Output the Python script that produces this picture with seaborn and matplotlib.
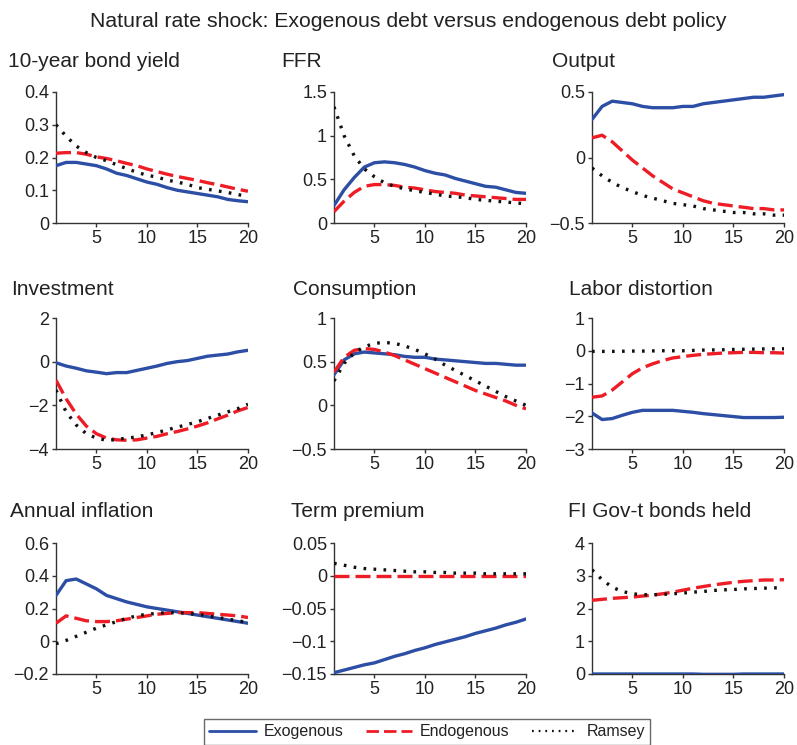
import numpy as np
import pandas as pd
import matplotlib
matplotlib.use("Agg")
import matplotlib.pyplot as plt
from matplotlib.lines import Line2D
from matplotlib.ticker import FuncFormatter
import seaborn as sns

sns.set_theme(style="ticks")
plt.rcParams["font.family"] = ["Liberation Sans", "DejaVu Sans"]

quarters = list(range(1, 21))
policies = ["Exogenous", "Endogenous", "Ramsey"]

bond_exo = [0.175, 0.185, 0.185, 0.18, 0.175, 0.165, 0.152, 0.145, 0.135, 0.125, 0.118, 0.108, 0.1, 0.095, 0.09, 0.085, 0.08, 0.072, 0.068, 0.065]
bond_endo = [0.213, 0.215, 0.215, 0.21, 0.202, 0.197, 0.19, 0.182, 0.175, 0.165, 0.157, 0.149, 0.142, 0.136, 0.13, 0.123, 0.117, 0.11, 0.103, 0.097]
bond_ram = [0.30, 0.265, 0.235, 0.215, 0.2, 0.19, 0.178, 0.166, 0.155, 0.146, 0.14, 0.131, 0.125, 0.118, 0.108, 0.103, 0.098, 0.093, 0.087, 0.08]

ffr_exo = [0.2, 0.38, 0.52, 0.64, 0.69, 0.70, 0.69, 0.67, 0.64, 0.6, 0.57, 0.55, 0.51, 0.48, 0.45, 0.42, 0.41, 0.38, 0.35, 0.34]
ffr_endo = [0.13, 0.25, 0.35, 0.42, 0.44, 0.44, 0.43, 0.41, 0.4, 0.38, 0.36, 0.35, 0.34, 0.32, 0.31, 0.3, 0.29, 0.28, 0.27, 0.27]
ffr_ram = [1.33, 1.0, 0.77, 0.62, 0.53, 0.46, 0.42, 0.39, 0.37, 0.35, 0.33, 0.31, 0.3, 0.29, 0.27, 0.26, 0.25, 0.24, 0.23, 0.22]

out_exo = [0.29, 0.39, 0.43, 0.42, 0.41, 0.39, 0.38, 0.38, 0.38, 0.39, 0.39, 0.41, 0.42, 0.43, 0.44, 0.45, 0.46, 0.46, 0.47, 0.48]
out_endo = [0.15, 0.17, 0.12, 0.05, -0.02, -0.08, -0.14, -0.19, -0.24, -0.27, -0.3, -0.33, -0.35, -0.36, -0.37, -0.38, -0.39, -0.39, -0.4, -0.4]
out_ram = [-0.08, -0.14, -0.19, -0.23, -0.26, -0.29, -0.31, -0.33, -0.35, -0.36, -0.37, -0.39, -0.4, -0.41, -0.42, -0.42, -0.43, -0.43, -0.44, -0.44]

inv_exo = [-0.05, -0.2, -0.3, -0.42, -0.48, -0.55, -0.5, -0.5, -0.4, -0.3, -0.2, -0.08, 0.0, 0.05, 0.15, 0.25, 0.3, 0.35, 0.45, 0.52]
inv_endo = [-0.85, -1.7, -2.4, -2.95, -3.3, -3.5, -3.58, -3.6, -3.58, -3.5, -3.42, -3.3, -3.2, -3.08, -2.95, -2.8, -2.62, -2.45, -2.25, -2.1]
inv_ram = [-1.3, -2.3, -2.9, -3.3, -3.5, -3.6, -3.57, -3.5, -3.45, -3.35, -3.25, -3.12, -3.0, -2.88, -2.75, -2.6, -2.45, -2.3, -2.15, -1.95]

cons_exo = [0.35, 0.52, 0.59, 0.61, 0.6, 0.59, 0.58, 0.56, 0.55, 0.55, 0.53, 0.52, 0.51, 0.5, 0.49, 0.48, 0.48, 0.47, 0.46, 0.46]
cons_endo = [0.38, 0.55, 0.63, 0.65, 0.64, 0.61, 0.57, 0.52, 0.47, 0.42, 0.37, 0.32, 0.27, 0.22, 0.17, 0.13, 0.09, 0.05, 0.0, -0.04]
cons_ram = [0.28, 0.48, 0.6, 0.67, 0.71, 0.72, 0.71, 0.68, 0.64, 0.59, 0.53, 0.46, 0.4, 0.34, 0.28, 0.22, 0.16, 0.1, 0.05, 0.0]

lab_exo = [-1.9, -2.1, -2.07, -1.97, -1.88, -1.82, -1.82, -1.82, -1.82, -1.85, -1.88, -1.92, -1.95, -1.98, -2.01, -2.04, -2.04, -2.04, -2.04, -2.03]
lab_endo = [-1.42, -1.38, -1.2, -0.95, -0.7, -0.52, -0.4, -0.3, -0.22, -0.18, -0.14, -0.11, -0.09, -0.07, -0.06, -0.05, -0.05, -0.06, -0.06, -0.07]
lab_ram = [-0.02, -0.02, -0.02, -0.015, -0.01, -0.01, -0.005, 0.0, 0.0, 0.0, 0.01, 0.02, 0.025, 0.03, 0.04, 0.045, 0.05, 0.055, 0.06, 0.06]

infl_exo = [0.28, 0.37, 0.38, 0.35, 0.32, 0.28, 0.26, 0.24, 0.225, 0.21, 0.2, 0.19, 0.18, 0.17, 0.16, 0.15, 0.14, 0.13, 0.12, 0.11]
infl_endo = [0.11, 0.155, 0.14, 0.125, 0.12, 0.12, 0.125, 0.135, 0.145, 0.155, 0.165, 0.17, 0.175, 0.175, 0.175, 0.17, 0.165, 0.16, 0.155, 0.145]
infl_ram = [-0.015, 0.005, 0.03, 0.055, 0.08, 0.1, 0.12, 0.14, 0.155, 0.165, 0.17, 0.175, 0.175, 0.17, 0.165, 0.155, 0.145, 0.135, 0.125, 0.115]

tp_exo = [-0.148, -0.144, -0.14, -0.136, -0.133, -0.128, -0.123, -0.119, -0.114, -0.11, -0.105, -0.101, -0.097, -0.093, -0.088, -0.084, -0.08, -0.075, -0.071, -0.066]
tp_endo = [0.0] * 20
tp_ram = [0.019, 0.016, 0.013, 0.011, 0.01, 0.009, 0.008, 0.007, 0.006, 0.006, 0.005, 0.005, 0.004, 0.004, 0.004, 0.003, 0.003, 0.003, 0.003, 0.003]

fi_exo = [0.0, 0.0, 0.0, 0.0, 0.0, 0.0, 0.0, 0.0, 0.0, 0.0, 0.0, -0.01, -0.01, -0.01, -0.01, 0.0, 0.0, 0.0, 0.0, 0.0]
fi_endo = [2.25, 2.28, 2.31, 2.33, 2.35, 2.38, 2.41, 2.45, 2.5, 2.56, 2.62, 2.67, 2.72, 2.76, 2.8, 2.83, 2.85, 2.87, 2.87, 2.88]
fi_ram = [3.18, 2.88, 2.65, 2.52, 2.45, 2.42, 2.42, 2.43, 2.45, 2.47, 2.5, 2.52, 2.55, 2.57, 2.58, 2.6, 2.61, 2.62, 2.63, 2.63]

panel_titles = ["10-year bond yield", "FFR", "Output",
                "Investment", "Consumption", "Labor distortion",
                "Annual inflation", "Term premium", "FI Gov-t bonds held"]
panel_series = [(bond_exo, bond_endo, bond_ram), (ffr_exo, ffr_endo, ffr_ram), (out_exo, out_endo, out_ram),
                (inv_exo, inv_endo, inv_ram), (cons_exo, cons_endo, cons_ram), (lab_exo, lab_endo, lab_ram),
                (infl_exo, infl_endo, infl_ram), (tp_exo, tp_endo, tp_ram), (fi_exo, fi_endo, fi_ram)]
panel_yticks = [[0, 0.1, 0.2, 0.3, 0.4], [0, 0.5, 1, 1.5], [-0.5, 0, 0.5],
                [-4, -2, 0, 2], [-0.5, 0, 0.5, 1], [-3, -2, -1, 0, 1],
                [-0.2, 0, 0.2, 0.4, 0.6], [-0.15, -0.1, -0.05, 0, 0.05], [0, 1, 2, 3, 4]]
x_ticks = [5, 10, 15, 20]

palette = {"Exogenous": "#2c4ea5", "Endogenous": "#ee1c25", "Ramsey": "#111111"}
dash_styles = {"Exogenous": "", "Endogenous": (4.5, 1.8), "Ramsey": (0.8, 2.2)}

W, H = 797, 745
fig = plt.figure(figsize=(W / 100, H / 100), dpi=100)

col_left = [56, 334, 592]
row_top = [92, 318, 543]
ax_w, ax_h = 192, 131
title_pos = [(8, 67), (281, 67), (552, 67),
             (11, 295), (293, 295), (569, 295),
             (10, 517), (291, 517), (568, 517)]

fmt = FuncFormatter(lambda v, p: ("%g" % v).replace("-", "\u2212"))
text_color = "#222222"

for i, (title, series, yt) in enumerate(zip(panel_titles, panel_series, panel_yticks)):
    r, c = divmod(i, 3)
    ax = fig.add_axes([col_left[c] / W, 1 - (row_top[r] + ax_h) / H, ax_w / W, ax_h / H])
    df = pd.DataFrame({
        "quarter": quarters * 3,
        "value": list(series[0]) + list(series[1]) + list(series[2]),
        "policy": sum([[p] * 20 for p in policies], []),
    })
    sns.lineplot(data=df, x="quarter", y="value", hue="policy", style="policy",
                 palette=palette, dashes=dash_styles, linewidth=2.4,
                 ax=ax, legend=False, zorder=3)
    ax.set_xlim(1, 20)
    ax.set_ylim(yt[0], yt[-1])
    ax.set_xticks(x_ticks)
    ax.set_yticks(yt)
    ax.yaxis.set_major_formatter(fmt)
    ax.set_xlabel("")
    ax.set_ylabel("")
    for s in ["top", "right"]:
        ax.spines[s].set_visible(False)
    for s in ["left", "bottom"]:
        ax.spines[s].set_color("#333333")
        ax.spines[s].set_linewidth(1.0)
    ax.tick_params(direction="out", length=3, width=1.0, color="#333333",
                   labelsize=13, labelcolor=text_color, pad=2)
    ax.patch.set_alpha(0)
    tx, ty = title_pos[i]
    fig.text(tx / W, 1 - ty / H, title, fontsize=15, color=text_color,
             ha="left", va="baseline")

fig.text(408 / W, 1 - 27 / H, "Natural rate shock: Exogenous debt versus endogenous debt policy",
         fontsize=15.3, color=text_color, ha="center", va="baseline")

handles = [Line2D([], [], color=palette[p], linewidth=2.0 if p != "Ramsey" else 1.6,
                  dashes=dash_styles[p] if dash_styles[p] else (None, None))
           for p in policies]
handles[0].set_linestyle("-")
leg = fig.legend(handles, policies, loc="lower center", ncol=3,
                 bbox_to_anchor=(427 / W, -8 / H), frameon=True, fancybox=False,
                 edgecolor="#444444", fontsize=11.5, handlelength=2.9,
                 columnspacing=1.4, borderpad=0.35, handletextpad=0.5)
leg.get_frame().set_linewidth(1.0)
for t in leg.get_texts():
    t.set_color(text_color)

fig.savefig("out.png", dpi=100)
